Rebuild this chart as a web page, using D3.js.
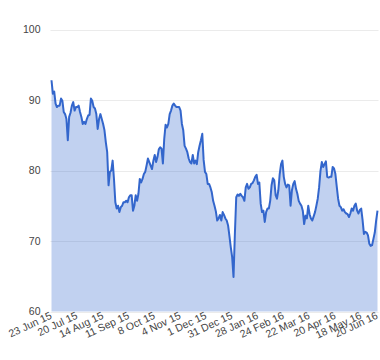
<!DOCTYPE html>
<html>
<head>
<meta charset="utf-8">
<script src="https://cdn.jsdelivr.net/npm/d3@7"></script>
<style>
  html, body { margin: 0; padding: 0; background: #fff; }
  svg { display: block; }
  text { font-family: Arial, "Liberation Sans", sans-serif; }
</style>
</head>
<body>
<svg id="chart" width="380" height="360"></svg>
<script>
// Daily values (trading days)
const values = [
  92.8, 90.9, 91.2, 89.5, 89.0, 89.2, 89.2, 90.2, 89.9, 88.3,
  88.0, 87.3, 84.3, 87.6, 88.2, 89.2, 89.7, 88.5, 89.0, 89.0,
  89.2, 88.3, 87.6, 86.6, 86.9, 86.6, 87.3, 87.8, 87.9, 90.2,
  89.9, 89.0, 88.8, 88.0, 85.9, 87.3, 88.0, 87.3, 86.6, 85.7,
  84.0, 82.6, 77.9, 79.8, 80.0, 81.4, 78.8, 75.5, 74.6, 75.0,
  74.1, 74.8, 75.0, 75.5, 75.5, 75.7, 75.5, 76.2, 76.5, 76.5,
  74.3, 75.0, 76.5, 75.7, 76.7, 78.8, 78.3, 78.8, 79.5, 79.8,
  80.7, 81.7, 81.2, 80.7, 80.2, 81.4, 82.2, 81.2, 81.9, 83.0,
  83.3, 83.1, 81.0, 84.5, 86.5, 86.1, 86.6, 88.0, 88.5, 89.2,
  89.5, 89.2, 89.0, 89.0, 89.0, 88.5, 86.6, 85.7, 83.5, 83.1,
  82.6, 81.7, 81.2, 81.0, 82.2, 81.0, 81.4, 80.9, 82.6, 83.5,
  84.3, 85.2, 81.5, 79.8, 79.5, 78.1, 78.1, 77.6, 76.9, 75.7,
  75.0, 74.2, 72.9, 73.2, 73.7, 72.9, 74.1, 73.7, 73.2, 72.9,
  72.2, 70.7, 69.1, 67.7, 64.9, 71.0, 76.2, 76.6, 76.4, 76.7,
  76.4, 76.2, 75.7, 77.6, 78.1, 77.4, 77.6, 78.1, 78.2, 78.6,
  79.1, 79.4, 78.1, 78.3, 75.3, 74.1, 74.3, 72.7, 74.1, 74.6,
  74.6, 75.7, 77.9, 78.9, 78.6, 76.5, 76.0, 77.2, 79.5, 80.9,
  81.4, 79.1, 78.1, 77.6, 78.0, 77.9, 75.0, 77.2, 78.1, 78.5,
  77.4, 76.7, 75.7, 75.3, 75.0, 74.3, 72.4, 73.6, 73.2, 75.0,
  73.8, 73.2, 72.9, 73.5, 74.1, 75.0, 76.0, 77.6, 79.9, 81.2,
  80.5, 80.9, 81.3, 79.1, 79.0, 79.1, 79.1, 80.5, 80.3, 79.5,
  77.7, 76.0, 75.0, 74.8, 74.3, 74.5, 74.1, 73.9, 73.8, 73.4,
  73.9, 74.6, 74.3, 75.0, 75.3, 74.3, 73.9, 74.4, 74.6, 73.0,
  71.0, 71.3, 71.2, 70.8, 69.6, 69.3, 69.4, 70.3, 71.2, 72.9,
  74.3
];

// Category labels shown on the x axis and the day index they belong to
const tickLabels = ["23 Jun 15", "20 Jul 15", "14 Aug 15", "11 Sep 15", "8 Oct 15",
  "4 Nov 15", "1 Dec 15", "31 Dec 15", "28 Jan 16", "24 Feb 16", "22 Mar 16",
  "20 Apr 16", "18 May 16", "20 Jun 16"];
const tickIndex = [0, 19, 38, 57, 76, 95, 114, 133, 152, 171, 190, 209, 228, 240];

const yTicks = [60, 70, 80, 90, 100];

const svg = d3.select("#chart");
const mLeft = 51.5, mRight = 377.5, mTop = 29.5, mBottom = 311.5;

const x = d3.scaleLinear().domain([0, values.length - 1]).range([mLeft, mRight]);
const y = d3.scaleLinear().domain([60, 100]).range([mBottom, mTop]);

// gridlines
svg.append("g")
  .selectAll("line")
  .data(yTicks)
  .join("line")
  .attr("x1", mLeft - 1).attr("x2", mRight + 1)
  .attr("y1", d => Math.round(y(d)) + 0.5).attr("y2", d => Math.round(y(d)) + 0.5)
  .attr("stroke", "#ebebeb").attr("stroke-width", 1);

// area
const area = d3.area()
  .x((d, i) => x(i))
  .y0(y(60))
  .y1(d => y(d));
svg.append("path")
  .datum(values)
  .attr("d", area)
  .attr("fill", "#3366cc")
  .attr("fill-opacity", 0.3);

// line
const line = d3.line()
  .x((d, i) => x(i))
  .y(d => y(d));
svg.append("path")
  .datum(values)
  .attr("d", line)
  .attr("fill", "none")
  .attr("stroke", "#3366cc")
  .attr("stroke-width", 2)
  .attr("stroke-linejoin", "round");

// y axis labels
const yAxis = d3.axisLeft(y).tickValues(yTicks).tickSize(0).tickPadding(11);
const yg = svg.append("g").attr("transform", `translate(${mLeft},0)`).call(yAxis);
yg.select(".domain").remove();
yg.selectAll("text")
  .attr("font-size", 10.5)
  .attr("fill", "#444")
  .style("font-family", "Arial, 'Liberation Sans', sans-serif");

// x axis labels (slanted)
const xAxis = d3.axisBottom(x)
  .tickValues(tickIndex)
  .tickFormat((d, i) => tickLabels[i])
  .tickSize(0);
const xg = svg.append("g").attr("transform", `translate(0,${mBottom})`).call(xAxis);
xg.select(".domain").remove();
xg.selectAll("text")
  .attr("font-size", 10.5)
  .attr("fill", "#444")
  .style("font-family", "Arial, 'Liberation Sans', sans-serif")
  .attr("text-anchor", "end")
  .attr("y", 0)
  .attr("dy", "0.8em")
  .attr("transform", "translate(-3,-1) rotate(-25)");
</script>
</body>
</html>
